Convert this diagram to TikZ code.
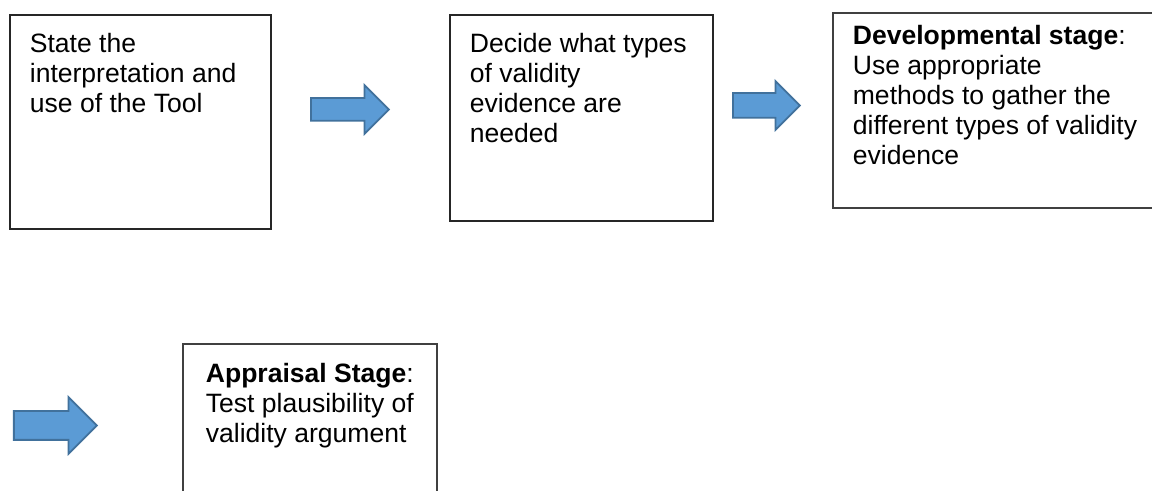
\documentclass[tikz,border=0pt]{standalone}
\usepackage{fontspec}
\setmainfont{Liberation Sans}
\usetikzlibrary{shapes.arrows}
\definecolor{arrowfill}{HTML}{5B9BD5}
\definecolor{arrowline}{HTML}{41719C}

\begin{document}
\begin{tikzpicture}[
 box/.style={rectangle, draw=black!85, line width=1pt, anchor=north west, inner xsep=0.4cm, inner ysep=0.36cm, font=\fontsize{15.1pt}{17.1pt}\selectfont},
 flow/.style={single arrow, draw=arrowline, fill=arrowfill, line width=1pt, anchor=tail, inner sep=0pt, text depth=0pt, shape border rotate=0, single arrow tip angle=90},
]
\clip (0,0) rectangle (23.04,9.82);
\node[box] (state) at (0.18,9.54) {\parbox[t][3.56cm][t]{4.42cm}{\raggedright State the\\interpretation and\\use of the Tool}};
\node[box] (decide) at (8.98,9.54) {\parbox[t][3.40cm][t]{4.46cm}{\raggedright Decide what types\\of validity\\evidence are\\needed}};
\node[box, draw=black!75, inner ysep=0.24cm] (gather) at (16.64,9.58) {\parbox[t][3.42cm][t]{5.86cm}{\raggedright \textbf{Developmental stage}:\\Use appropriate\\methods to gather the\\different types of validity\\evidence}};
\node[box, draw=black!75, inner xsep=0.46cm, inner ysep=0.38cm] (appraise) at (3.64,2.96) {\parbox[t][2.64cm][t]{4.16cm}{\raggedright \textbf{Appraisal Stage}:\\Test plausibility of\\validity argument}};

\node[flow, text height=0.42cm, minimum height=1.56cm, single arrow head extend=0.26cm] (next1) at (6.20,7.63) {};
\node[flow, text height=0.46cm, minimum height=1.34cm, single arrow head extend=0.24cm] (next2) at (14.64,7.71) {};
\node[flow, text height=0.54cm, minimum height=1.66cm, single arrow head extend=0.28cm] (next3) at (0.26,1.31) {};
\end{tikzpicture}
\end{document}
